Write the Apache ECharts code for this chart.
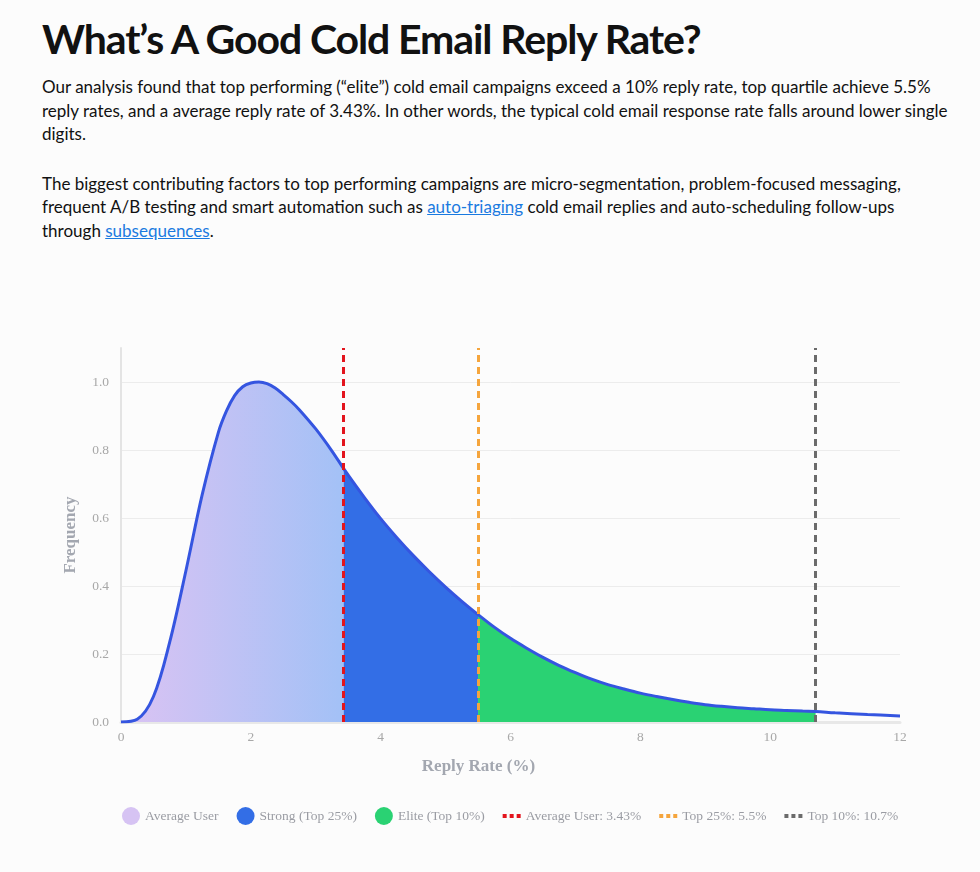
<!DOCTYPE html>
<html>
<head>
<meta charset="utf-8">
<script src="https://cdn.jsdelivr.net/npm/echarts@6/dist/echarts.min.js"></script>
<style>
  html, body { margin: 0; padding: 0; background: #fcfcfc; }
  #head { height: 260px; padding: 0 26px 0 42px; box-sizing: border-box; font-family: Lato, "Noto Sans", sans-serif; color: #111; }
  #head h1 { margin: 0; padding-top: 14px; font-size: 41px; font-weight: 700; letter-spacing: -1.1px; line-height: 50px; }
  #head p { margin: 11px 0 0 0; font-size: 17px; line-height: 23.6px; }
  #head p + p { margin-top: 26px; }
  #head a { color: #1a7ae0; text-decoration: underline; }
  #chart { width: 980px; height: 612px; }
</style>
</head>
<body>
<div id="head">
  <h1>What’s A Good Cold Email Reply Rate?</h1>
  <p>Our analysis found that top performing (“elite”) cold email campaigns exceed a 10% reply rate, top quartile achieve 5.5% reply rates, and a average reply rate of 3.43%. In other words, the typical cold email response rate falls around lower single digits.</p>
  <p>The biggest contributing factors to top performing campaigns are micro-segmentation, problem-focused messaging, frequent A/B testing and smart automation such as <a href="#">auto-triaging</a> cold email replies and auto-scheduling follow-ups through <a href="#">subsequences</a>.</p>
</div>
<div id="chart"></div>
<script>
  'use strict'
  /*-----reply rate distribution-----*/
  var replyRate = [0, 0.25, 0.5, 0.75, 1.0, 1.25, 1.5, 1.625, 1.75, 1.875, 2.0, 2.125, 2.25, 2.375, 2.5, 2.625, 2.75,
    3.0, 3.25, 3.43, 3.5, 3.75, 4.0, 4.25, 4.5, 4.75, 5.0, 5.25, 5.5, 5.75, 6.0, 6.25, 6.5, 6.75, 7.0, 7.25, 7.5, 7.75,
    8.0, 8.25, 8.5, 8.75, 9.0, 9.25, 9.5, 9.75, 10.0, 10.25, 10.5, 10.7, 11.0, 11.5, 12.0];
  var frequency = [0, 0.008, 0.075, 0.235, 0.445, 0.668, 0.852, 0.915, 0.96, 0.986, 0.997, 1.0, 0.995, 0.982, 0.963, 0.942, 0.918,
    0.862, 0.797, 0.745, 0.726, 0.66, 0.598, 0.542, 0.49, 0.442, 0.397, 0.355, 0.316, 0.279, 0.246, 0.217, 0.19, 0.166, 0.145, 0.126, 0.11, 0.097,
    0.085, 0.075, 0.066, 0.058, 0.051, 0.046, 0.042, 0.039, 0.036, 0.034, 0.032, 0.031, 0.027, 0.022, 0.018];

  var thresholds = [3.43, 5.5, 10.7];
  var bandNames = ['Average User', 'Strong (Top 25%)', 'Elite (Top 10%)'];
  var lineNames = ['Average User: 3.43%', 'Top 25%: 5.5%', 'Top 10%: 10.7%'];
  var xTicks = { min: 0, max: 12, interval: 2 };
  var yTicks = { min: 0, max: 1.1, interval: 0.2 };

  var bandColors = ['#d6c3f3', '#336ee6', '#2ad273'];
  var lineColors = ['#e3141d', '#f5a53d', '#6b6b6b'];
  var serif = '"Liberation Serif", "DejaVu Serif", serif';

  var points = replyRate.map(function (x, i) { return [x, frequency[i]]; });
  function segment(lo, hi) {
    return points.filter(function (p) { return p[0] >= lo && p[0] <= hi; });
  }

  var bandFills = [
    new echarts.graphic.LinearGradient(0, 0, 1, 0, [
      { offset: 0, color: '#dbc3f3' },
      { offset: 1, color: '#a3c1f6' }
    ]),
    bandColors[1],
    bandColors[2]
  ];
  var bounds = [0].concat(thresholds);

  var series = [];
  bandNames.forEach(function (name, i) {
    series.push({
      name: name,
      type: 'line',
      data: segment(bounds[i], bounds[i + 1]),
      showSymbol: false,
      smooth: 0.35,
      silent: true,
      itemStyle: { color: bandColors[i] },
      lineStyle: { width: 0 },
      areaStyle: { color: bandFills[i], opacity: 1 },
      z: 1
    });
  });
  series.push({
    name: 'Distribution',
    type: 'line',
    data: points,
    showSymbol: false,
    smooth: 0.35,
    silent: true,
    itemStyle: { color: '#3555e0' },
    lineStyle: { width: 3, color: '#3555e0' },
    z: 3
  });
  lineNames.forEach(function (name, i) {
    series.push({
      name: name,
      type: 'line',
      data: [],
      itemStyle: { color: lineColors[i] },
      markLine: {
        silent: true,
        symbol: 'none',
        label: { show: false },
        lineStyle: { color: lineColors[i], type: [7, 5], width: 3 },
        data: [{ xAxis: thresholds[i] }]
      },
      z: 4
    });
  });

  var dotted = 'path://M0,0h4v4h-4z M7,0h4v4h-4z M14,0h4v4h-4z';
  var legendData = bandNames.map(function (n) { return { name: n, icon: 'circle' }; })
    .concat(lineNames.map(function (n) { return { name: n, icon: dotted, itemWidth: 14, itemHeight: 3 }; }));

  var option = {
    backgroundColor: '#fcfcfc',
    animation: false,
    grid: { top: 88, left: 121, right: 80, bottom: 150 },
    legend: {
      data: legendData,
      top: 542,
      left: 117,
      itemWidth: 18,
      itemHeight: 18,
      itemGap: 18,
      textStyle: { fontFamily: serif, fontSize: 13.5, color: '#9a9ca3' }
    },
    xAxis: {
      type: 'value',
      min: xTicks.min,
      max: xTicks.max,
      interval: xTicks.interval,
      name: 'Reply Rate (%)',
      nameLocation: 'middle',
      nameGap: 36,
      nameTextStyle: { fontFamily: serif, fontSize: 17, fontWeight: 'bold', color: '#a3a7b0', padding: [0, 64, 0, 0] },
      axisLine: { lineStyle: { color: '#e8e8e8', width: 3 } },
      axisTick: { show: false },
      splitLine: { show: false },
      axisLabel: { fontFamily: serif, fontSize: 13.5, color: '#a8a8a8', margin: 8 }
    },
    yAxis: {
      type: 'value',
      min: yTicks.min,
      max: yTicks.max,
      interval: yTicks.interval,
      name: 'Frequency',
      nameLocation: 'middle',
      nameGap: 42,
      nameTextStyle: { fontFamily: serif, fontSize: 17, fontWeight: 'bold', color: '#a3a7b0' },
      axisLine: { show: true, lineStyle: { color: '#e4e4e4', width: 2 } },
      axisTick: { show: false },
      splitLine: { show: true, showMaxLine: false, lineStyle: { color: '#ececec' } },
      axisLabel: {
        fontFamily: serif, fontSize: 13.5, color: '#a8a8a8', margin: 12, showMaxLabel: false,
        formatter: function (v) { return v.toFixed(1); }
      }
    },
    series: series
  };

  var chart = echarts.init(document.getElementById('chart'));
  chart.setOption(option);
</script>
</body>
</html>
